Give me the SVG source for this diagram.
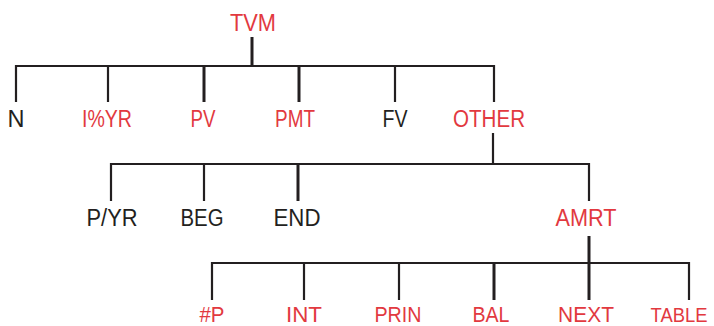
<svg xmlns="http://www.w3.org/2000/svg" width="714" height="326" viewBox="0 0 714 326">
<style>
text{font-family:"Liberation Sans",Arial,sans-serif;font-size:23px;text-anchor:middle}
.b text{font-size:22px}
.r{fill:#e2393f}
.k{fill:#231f20}
.c line,.c polyline{stroke:#231f20;stroke-width:2.2;fill:none}
.c .t{stroke-width:3}
</style>
<rect width="714" height="326" fill="#fff"/>
<g class="c" id="connectors">
<line x1="252" y1="37" x2="252" y2="66" class="t"/>
<polyline points="16,102 16,66 494,66 494,102"/>
<line x1="108" y1="66" x2="108" y2="102"/>
<line x1="204" y1="66" x2="204" y2="102" class="t"/>
<line x1="299" y1="66" x2="299" y2="102" class="t"/>
<line x1="395" y1="66" x2="395" y2="102"/>
<line x1="493" y1="133" x2="493" y2="164"/>
<polyline points="111,201 111,164 589,164 589,201"/>
<line x1="204" y1="164" x2="204" y2="201"/>
<line x1="298" y1="164" x2="298" y2="201" class="t"/>
<line x1="589" y1="236" x2="589" y2="300" class="t"/>
<polyline points="212,300 212,263 689,263 689,300"/>
<line x1="304" y1="263" x2="304" y2="300"/>
<line x1="399" y1="263" x2="399" y2="300"/>
<line x1="494" y1="263" x2="494" y2="300" class="t"/>
</g>
<g id="tvm"><text x="253" y="31" class="r" textLength="46" lengthAdjust="spacingAndGlyphs">TVM</text></g>
<g id="n"><text x="16" y="127" class="k" textLength="17" lengthAdjust="spacingAndGlyphs">N</text></g>
<g id="iyr"><text x="107" y="127" class="r" textLength="50" lengthAdjust="spacingAndGlyphs">I%YR</text></g>
<g id="pv"><text x="203" y="127" class="r" textLength="25" lengthAdjust="spacingAndGlyphs">PV</text></g>
<g id="pmt"><text x="295" y="127" class="r" textLength="40" lengthAdjust="spacingAndGlyphs">PMT</text></g>
<g id="fv"><text x="395" y="127" class="k" textLength="25" lengthAdjust="spacingAndGlyphs">FV</text></g>
<g id="other"><text x="489" y="127" class="r" textLength="72" lengthAdjust="spacingAndGlyphs">OTHER</text></g>
<g id="pyr"><text x="112" y="226" class="k" textLength="51" lengthAdjust="spacingAndGlyphs">P/YR</text></g>
<g id="beg"><text x="202" y="226" class="k" textLength="43" lengthAdjust="spacingAndGlyphs">BEG</text></g>
<g id="end"><text x="297" y="226" class="k" textLength="47" lengthAdjust="spacingAndGlyphs">END</text></g>
<g id="amrt"><text x="586" y="226" class="r" textLength="61" lengthAdjust="spacingAndGlyphs">AMRT</text></g>
<g class="b">
<g id="np"><text x="212" y="322" class="r" textLength="25" lengthAdjust="spacingAndGlyphs">#P</text></g>
<g id="int"><text x="304" y="322" class="r" textLength="36" lengthAdjust="spacingAndGlyphs">INT</text></g>
<g id="prin"><text x="398" y="322" class="r" textLength="47" lengthAdjust="spacingAndGlyphs">PRIN</text></g>
<g id="bal"><text x="491" y="322" class="r" textLength="37" lengthAdjust="spacingAndGlyphs">BAL</text></g>
<g id="next"><text x="586" y="322" class="r" textLength="56" lengthAdjust="spacingAndGlyphs">NEXT</text></g>
<g id="table"><text x="679" y="322" class="r" style="font-size:20px" textLength="57" lengthAdjust="spacingAndGlyphs">TABLE</text></g>
</g>
</svg>
